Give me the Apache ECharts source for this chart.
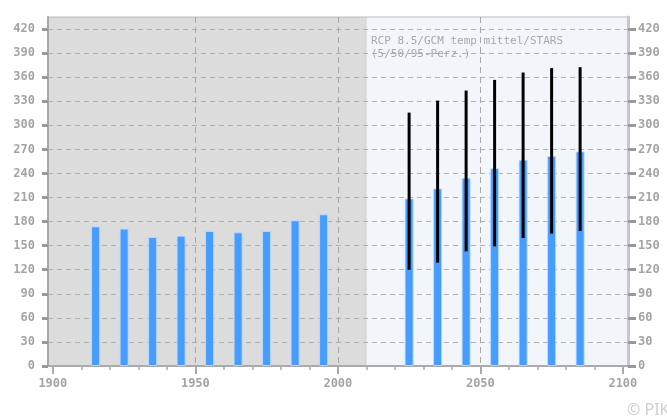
<!DOCTYPE html>
<html>
<head>
<meta charset="utf-8">
<script src="https://cdn.jsdelivr.net/npm/echarts@6/dist/echarts.min.js"></script>
<style>html,body{margin:0;padding:0;background:#fff}#c{width:667px;height:419px}</style>
</head>
<body>
<div id="c"></div>
<script>
// ---- data ----
var histYears = [1915, 1925, 1935, 1945, 1955, 1965, 1975, 1985, 1995];
var histValues = [174.1, 171.3, 160.8, 162.5, 168.3, 166.6, 168.3, 181.6, 189.1];
var futYears = [2025, 2035, 2045, 2055, 2065, 2075, 2085];
var futMedian = [208.8, 221.3, 234.5, 246.6, 257.0, 261.6, 267.5];
var futLow = [120.0, 128.8, 142.9, 149.1, 159.5, 165.0, 168.3];
var futHigh = [315.8, 330.8, 343.3, 356.6, 365.8, 371.3, 372.5];
var xMajorTicks = [1900, 1950, 2000, 2050, 2100];
var xMinorTicks = [1910, 1920, 1930, 1940, 1960, 1970, 1980, 1990, 2010, 2020, 2030, 2040, 2060, 2070, 2080, 2090];
var xGridLines = [1950, 2000, 2050];
var yTicks = [0, 30, 60, 90, 120, 150, 180, 210, 240, 270, 300, 330, 360, 390, 420];
var periods = [[1898.3, 2010, 'hist'], [2010, 2101.8, 'fut']];
var titleLines = ['RCP 8.5/GCM temp mittel/STARS', '(5/50/95-Perz.)'];
var credit = '\u00A9 PIK';

var X_MIN = 1898.3, X_MAX = 2101.8, Y_MIN = 0, Y_MAX = 435;

var barData = [];
histYears.forEach(function (y, i) { barData.push([y, histValues[i]]); });
futYears.forEach(function (y, i) { barData.push([y, futMedian[i]]); });
var whiskerData = futYears.map(function (y, i) { return [y, futLow[i], futHigh[i]]; });

var mono = 'DejaVu Sans Mono';
var labelColor = '#a4a4a4';
function plain(v) { return String(Math.round(v)); }

var chart = echarts.init(document.getElementById('c'), null, {renderer: 'canvas'});
chart.setOption({
  animation: false,
  title: {
    text: titleLines.join('\n'),
    left: 371, top: 35, padding: 0,
    textStyle: {fontFamily: mono, fontSize: 11, fontWeight: 'normal', color: '#a8a8a8', lineHeight: 12.5}
  },
  graphic: [{
    type: 'text', left: 627, top: 402,
    style: {text: credit, font: '16px "Noto Sans"', fill: '#cfcfcf'}
  }],
  grid: {left: 48, right: 39, top: 17, bottom: 53, show: true, borderColor: '#bdbdbd', borderWidth: 1, containLabel: false},
  xAxis: [{
    type: 'value', min: X_MIN, max: X_MAX, position: 'bottom',
    axisLine: {show: true, onZero: false, lineStyle: {color: '#aaa', width: 2}},
    axisTick: {show: true, customValues: xMajorTicks, length: 8, lineStyle: {color: '#aaa', width: 2}},
    axisLabel: {customValues: xMajorTicks, formatter: plain, margin: 12, fontFamily: mono, fontSize: 12, fontWeight: 'bold', color: labelColor},
    splitLine: {show: false}
  }, {
    type: 'value', min: X_MIN, max: X_MAX, position: 'bottom',
    axisLine: {show: false},
    axisTick: {show: true, customValues: xMinorTicks, length: 4, lineStyle: {color: '#aaa', width: 1.5}},
    axisLabel: {show: false},
    splitLine: {show: false}
  }, {
    type: 'value', min: X_MIN, max: X_MAX, position: 'bottom',
    axisLine: {show: false},
    axisTick: {show: false, customValues: xGridLines},
    axisLabel: {show: false, customValues: xGridLines},
    splitLine: {show: true, lineStyle: {color: '#a8a8a8', width: 1, type: [6, 4]}}
  }],
  yAxis: [{
    type: 'value', min: Y_MIN, max: Y_MAX, position: 'left',
    axisLine: {show: true, onZero: false, lineStyle: {color: '#aaa', width: 2}},
    axisTick: {show: true, customValues: yTicks, length: 6, lineStyle: {color: '#999', width: 3}},
    axisLabel: {customValues: yTicks, formatter: plain, margin: 13, fontFamily: mono, fontSize: 12, fontWeight: 'bold', color: labelColor},
    splitLine: {show: true, lineStyle: {color: '#b0b0b0', width: 1, type: [5, 4]}}
  }, {
    type: 'value', min: Y_MIN, max: Y_MAX, position: 'right',
    axisLine: {show: true, onZero: false, lineStyle: {color: '#c8c8c8', width: 3}},
    axisTick: {show: true, customValues: yTicks, length: 8, lineStyle: {color: '#999', width: 3}},
    axisLabel: {customValues: yTicks, formatter: plain, margin: 10, fontFamily: mono, fontSize: 12, fontWeight: 'bold', color: labelColor},
    splitLine: {show: false}
  }],
  series: [{
    type: 'custom', z: -1, silent: true,
    xAxisIndex: 0, yAxisIndex: 0,
    data: periods,
    renderItem: function (params, api) {
      var p0 = api.coord([api.value(0), Y_MAX]);
      var p1 = api.coord([api.value(1), Y_MIN]);
      var isHist = params.dataIndex === 0;
      var children = [{
        type: 'rect',
        shape: {x: p0[0], y: p0[1], width: p1[0] - p0[0], height: p1[1] - p0[1]},
        style: {fill: isHist ? '#dcdcdc' : '#f2f6fb'}
      }];
      if (isHist) {
        children.push({
          type: 'line',
          shape: {x1: p1[0], y1: p0[1], x2: p1[0], y2: p1[1]},
          style: {stroke: '#b8b8b8', lineWidth: 1}
        });
      }
      return {type: 'group', children: children};
    }
  }, {
    type: 'bar', xAxisIndex: 0, yAxisIndex: 0,
    data: barData, barWidth: 9,
    itemStyle: {color: '#469cff', borderColor: 'rgba(190,220,255,0.85)', borderWidth: 1}
  }, {
    type: 'custom', xAxisIndex: 0, yAxisIndex: 0, z: 5,
    data: whiskerData,
    renderItem: function (params, api) {
      var a = api.coord([api.value(0), api.value(1)]);
      var b = api.coord([api.value(0), api.value(2)]);
      return {
        type: 'line',
        shape: {x1: a[0], y1: a[1], x2: b[0], y2: b[1]},
        style: {stroke: '#000', lineWidth: 3}
      };
    }
  }]
});
</script>
</body>
</html>
